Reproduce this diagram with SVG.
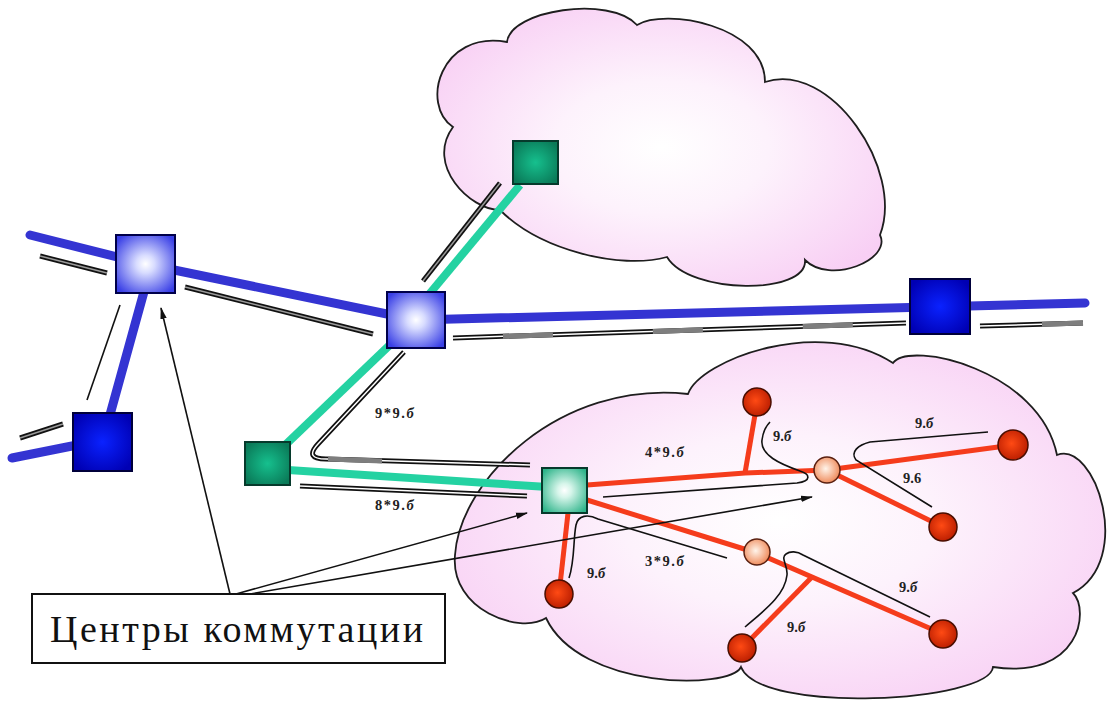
<svg xmlns="http://www.w3.org/2000/svg" xmlns:xlink="http://www.w3.org/1999/xlink" width="1111" height="705" viewBox="0 0 1111 705">
  <style>
    .cloud { stroke: #1e1e1e; stroke-width: 1.8; fill: url(#gCloud); }
    .blue { stroke: #3434d2; stroke-width: 9; fill: none; stroke-linecap: round; }
    .green { stroke: #24d2a2; stroke-width: 8; fill: none; }
    .red { stroke: #f53c1c; stroke-width: 5; fill: none; }
    .dbl-o { stroke: #111; stroke-width: 5; fill: none; }
    .dbl-i { stroke: #fff; stroke-width: 1.5; fill: none; }
    .dbl-ig { stroke: #9a9a9a; stroke-width: 1.5; fill: none; }
    .dbl-g { stroke: #7e7e7e; stroke-width: 5; fill: none; }
    .flow { stroke: #111; stroke-width: 1.6; fill: none; }
    .ptr { stroke: #111; stroke-width: 1.6; fill: none; marker-end: url(#head); }
    .lbl { font-family: "Liberation Serif", "Times New Roman", serif; font-weight: bold; font-size: 14.5px; fill: #222; }
    .cap { font-family: "Liberation Serif", "Times New Roman", serif; font-size: 38px; fill: #111; }
    .it { font-style: italic; }
    .sq-l { fill: url(#gBlueLight); stroke: #00004a; stroke-width: 2; }
    .sq-d { fill: url(#gBlueDark); stroke: #00003a; stroke-width: 2; }
    .sq-g { fill: url(#gGreen); stroke: #063a2c; stroke-width: 2; }
    .sq-gl { fill: url(#gGreenLight); stroke: #063a2c; stroke-width: 2; }
    .c-o { fill: url(#gOrange); stroke: #5a2010; stroke-width: 1.5; }
    .c-r { fill: url(#gRed); stroke: #4a0e00; stroke-width: 1.5; }
  </style>
  <defs>
    <radialGradient id="gCloud" cx="0.5" cy="0.5" r="0.6">
      <stop offset="0" stop-color="#ffffff"/>
      <stop offset="0.4" stop-color="#fdf2fc"/>
      <stop offset="1" stop-color="#f8cff4"/>
    </radialGradient>
    <radialGradient id="gBlueLight" cx="0.5" cy="0.5" r="0.62">
      <stop offset="0" stop-color="#ffffff"/>
      <stop offset="0.25" stop-color="#d8dcff"/>
      <stop offset="1" stop-color="#3a40e6"/>
    </radialGradient>
    <radialGradient id="gBlueDark" cx="0.5" cy="0.5" r="0.6">
      <stop offset="0" stop-color="#0a22ff"/>
      <stop offset="1" stop-color="#0000b4"/>
    </radialGradient>
    <radialGradient id="gGreen" cx="0.5" cy="0.5" r="0.6">
      <stop offset="0" stop-color="#16c08e"/>
      <stop offset="1" stop-color="#0a7a58"/>
    </radialGradient>
    <radialGradient id="gGreenLight" cx="0.5" cy="0.5" r="0.62">
      <stop offset="0" stop-color="#ffffff"/>
      <stop offset="0.25" stop-color="#d6f5ea"/>
      <stop offset="1" stop-color="#2eb48a"/>
    </radialGradient>
    <radialGradient id="gOrange" cx="0.45" cy="0.45" r="0.6">
      <stop offset="0" stop-color="#fff4ea"/>
      <stop offset="1" stop-color="#ee8452"/>
    </radialGradient>
    <radialGradient id="gRed" cx="0.45" cy="0.45" r="0.6">
      <stop offset="0" stop-color="#ff4a14"/>
      <stop offset="1" stop-color="#b81c00"/>
    </radialGradient>
    <marker id="head" viewBox="0 0 12 8" refX="11" refY="4" markerWidth="12" markerHeight="8" markerUnits="userSpaceOnUse" orient="auto">
      <path d="M0 0.8 L12 4 L0 7.2 Z" fill="#111"/>
    </marker>
    <!-- paired-wire runs drawn as double lines -->
    <path id="w1" d="M40 256 L107 273"/>
    <path id="w2" d="M185 287 L373 334"/>
    <path id="w3" d="M453 338 L906 323"/>
    <path id="w4" d="M980 326 L1083 323"/>
    <path id="w5" d="M423 281 L500 183"/>
    <path id="w6" d="M20 438 L63 424"/>
    <path id="w7" d="M404 352 L318 444 Q304 459 326 459 L530 465"/>
    <path id="w8" d="M300 486 L527 496"/>
  </defs>

  <rect width="1111" height="705" fill="#ffffff"/>

  <g id="clouds">
    <path id="cloud-top" class="cloud" d="M453 127 C420 105 440 30 507 42 C510 10 610 -5 637 25 C665 8 765 25 765 82 C830 60 905 170 880 235 C892 260 830 285 805 260 C808 295 690 295 667 257 C620 270 540 250 500 210 C470 210 425 165 453 127 Z"/>
    <path id="cloud-bottom" class="cloud" d="M455 555 C460 480 560 380 688 394 C700 360 820 315 893 363 C910 340 1040 370 1057 455 C1095 440 1135 560 1073 593 C1090 610 1080 680 993 667 C990 702 760 715 741 667 C730 690 580 690 546 618 C520 635 450 610 455 555 Z"/>
  </g>

  <g id="connectors">
    <!-- trunk lines -->
    <path class="blue" d="M30 235 L145 264"/>
    <path class="blue" d="M145 264 L416 320"/>
    <path class="blue" d="M416 320 L1085 303"/>
    <path class="blue" d="M150 270 L103 440"/>
    <path class="blue" d="M12 458 L102 440"/>
    <!-- access lines -->
    <path class="green" d="M520 185 L416 310"/>
    <path class="green" d="M395 340 L280 450"/>
    <path class="green" d="M288 470 L548 487"/>
    <!-- local lines -->
    <path class="red" d="M587 485 L745 473 L827 470"/>
    <path class="red" d="M745 473 L757 403"/>
    <path class="red" d="M827 470 L1013 445"/>
    <path class="red" d="M827 470 L943 527"/>
    <path class="red" d="M587 500 L757 553"/>
    <path class="red" d="M568 513 L559 594"/>
    <path class="red" d="M757 553 L943 634"/>
    <path class="red" d="M812 577 L742 648"/>

    <!-- double wires -->
    <use xlink:href="#w1" class="dbl-o"/><use xlink:href="#w1" class="dbl-ig"/>
    <use xlink:href="#w2" class="dbl-o"/><use xlink:href="#w2" class="dbl-ig"/>
    <use xlink:href="#w5" class="dbl-o"/><use xlink:href="#w5" class="dbl-ig"/>
    <use xlink:href="#w6" class="dbl-o"/><use xlink:href="#w6" class="dbl-ig"/>
    <use xlink:href="#w3" class="dbl-o"/><use xlink:href="#w3" class="dbl-i"/>
    <use xlink:href="#w3" class="dbl-g" stroke-dasharray="0 50 50 100 50 100 50 100"/>
    <use xlink:href="#w4" class="dbl-o"/><use xlink:href="#w4" class="dbl-i"/>
    <use xlink:href="#w4" class="dbl-g" stroke-dasharray="0 62 41 100"/>
    <use xlink:href="#w7" class="dbl-o"/><use xlink:href="#w7" class="dbl-i"/>
    <path class="dbl-g" d="M328 459 L382 461"/>
    <use xlink:href="#w8" class="dbl-o"/><use xlink:href="#w8" class="dbl-i"/>
    <path class="flow" d="M120 305 L87 400" stroke-width="2"/>

    <!-- traffic flow curves -->
    <path class="flow" d="M603 497 L797 483 C812 481 810 474 800 471 C780 464 760 455 762 440 C763 432 766 426 770 422"/>
    <path class="flow" d="M988 432 L870 442 C858 445 850 452 856 460 L932 507"/>
    <path class="flow" d="M569 578 C575 560 573 540 576 525 C578 515 588 514 598 519 L727 558"/>
    <path class="flow" d="M745 627 C765 610 785 595 787 575 C788 565 780 558 786 554 C790 551 797 551 803 555 L930 617"/>

    <!-- pointers from the caption -->
    <path class="ptr" d="M230 594 L161 308"/>
    <path class="ptr" d="M236 594 L527 513"/>
    <path class="ptr" d="M250 594 L812 497"/>
  </g>

  <g id="node-a"><rect class="sq-l" x="116" y="235" width="59" height="58"/></g>
  <g id="node-b"><rect class="sq-l" x="387" y="292" width="58" height="56"/></g>
  <g id="node-c"><rect class="sq-d" x="73" y="413" width="59" height="58"/></g>
  <g id="node-d"><rect class="sq-d" x="910" y="279" width="60" height="55"/></g>
  <g id="node-e"><rect class="sq-g" x="513" y="141" width="45" height="43"/></g>
  <g id="node-f"><rect class="sq-g" x="245" y="442" width="45" height="43"/></g>
  <g id="node-g"><rect class="sq-gl" x="542" y="468" width="45" height="45"/></g>
  <g id="node-h"><circle class="c-o" cx="827" cy="470" r="13"/></g>
  <g id="node-i"><circle class="c-o" cx="757" cy="552" r="13"/></g>
  <g id="node-j"><circle class="c-r" cx="757" cy="402" r="14"/></g>
  <g id="node-k"><circle class="c-r" cx="1013" cy="445" r="15"/></g>
  <g id="node-l"><circle class="c-r" cx="943" cy="527" r="14"/></g>
  <g id="node-m"><circle class="c-r" cx="559" cy="594" r="14"/></g>
  <g id="node-n"><circle class="c-r" cx="742" cy="648" r="14"/></g>
  <g id="node-o"><circle class="c-r" cx="943" cy="634" r="14"/></g>

  <g id="labels">
    <text class="lbl" x="375" y="418" letter-spacing="1.5">9*9.<tspan class="it">б</tspan></text>
    <text class="lbl" x="375" y="510" letter-spacing="1.5">8*9.<tspan class="it">б</tspan></text>
    <text class="lbl" x="645" y="457" letter-spacing="1.5">4*9.<tspan class="it">б</tspan></text>
    <text class="lbl" x="773" y="441">9.<tspan class="it">б</tspan></text>
    <text class="lbl" x="915" y="428">9.<tspan class="it">б</tspan></text>
    <text class="lbl" x="903" y="483">9.6</text>
    <text class="lbl" x="645" y="566" letter-spacing="1.5">3*9.<tspan class="it">б</tspan></text>
    <text class="lbl" x="587" y="578">9.<tspan class="it">б</tspan></text>
    <text class="lbl" x="899" y="592">9.<tspan class="it">б</tspan></text>
    <text class="lbl" x="787" y="632">9.<tspan class="it">б</tspan></text>
  </g>

  <g id="caption">
    <rect x="32" y="594" width="413" height="69" fill="#ffffff" stroke="#111" stroke-width="2"/>
    <text class="cap" x="50" y="642" textLength="373" lengthAdjust="spacing">Центры коммутации</text>
  </g>
</svg>
